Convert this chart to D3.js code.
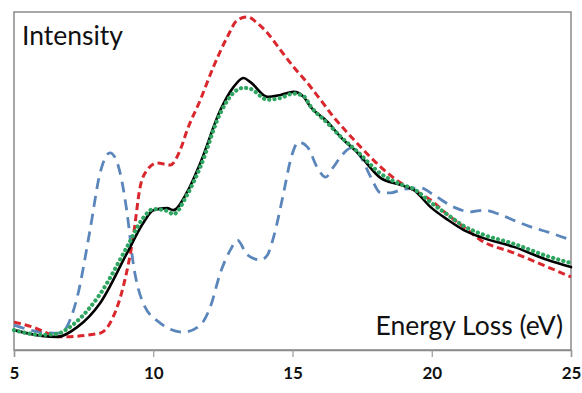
<!DOCTYPE html>
<html>
<head>
<meta charset="utf-8">
<script src="https://cdn.jsdelivr.net/npm/d3@7"></script>
<style>
  html, body { margin: 0; padding: 0; background: #fff; }
  svg { display: block; }
</style>
</head>
<body>
<div id="chart"></div>
<script>
// x ticks (eV)
const xTicks = [5, 10, 15, 20, 25];

// measured spectrum (black solid)
const measuredE = [5, 6, 6.55, 7.27, 8.09, 9.06, 9.64, 10, 10.5, 10.72, 11.2, 11.69, 12.41, 12.88, 13.24, 13.49, 14.1, 14.57, 15.04, 15.4, 15.65, 16.26, 16.73, 17.34, 18.17, 18.88, 19.35, 19.96, 20.58, 21.15, 21.76, 22.95, 24.17, 25];
const measuredI = [5.6, 3.9, 3.6, 6.5, 13.6, 28.5, 37.4, 41.2, 41.8, 41.2, 46.3, 55.2, 70.9, 77.7, 80.4, 79.2, 74.8, 75.4, 76.3, 74.8, 71.8, 67.4, 62.9, 58.2, 50.7, 48.7, 47.2, 42.1, 38.3, 35.3, 33.2, 30.3, 26.4, 24.3];

// fit (green dotted)
const fitE = [5, 6, 6.55, 7, 7.27, 8.09, 9.06, 9.64, 10, 10.5, 10.72, 11.2, 11.69, 12.41, 12.88, 13.24, 13.49, 14.1, 14.57, 15.04, 15.4, 15.65, 16.26, 16.73, 17.34, 18.17, 18.88, 19.35, 19.96, 20.58, 21.15, 21.76, 22.95, 24.17, 25];
const fitI = [5.6, 4.2, 4.5, 6.5, 8.3, 16.3, 30.3, 38.9, 41.5, 41, 40, 45.5, 54, 70, 76, 77.5, 77.2, 74, 74.5, 75.8, 75, 72, 67, 63, 58.5, 52, 48.9, 47.5, 43.5, 39.8, 36.5, 34.2, 31.2, 27.5, 25.5];

// red dashed
const redE = [5, 5.68, 6.65, 8.09, 8.56, 8.92, 9.28, 9.53, 9.78, 10.14, 10.61, 10.97, 11.22, 11.69, 12.16, 12.66, 13.02, 13.38, 13.74, 14.1, 14.57, 15.04, 15.54, 16.01, 16.48, 16.98, 17.45, 18.17, 18.88, 19.35, 19.96, 20.58, 21.15, 21.76, 22.95, 24.17, 25];
const redI = [8, 6.5, 3.6, 4.7, 9.5, 18.4, 33.2, 48.1, 53.1, 55.2, 54.6, 59.1, 65, 73.9, 83.7, 92.6, 97.6, 98.5, 96.7, 93.8, 88.7, 83.7, 78.9, 73.9, 68.8, 64.1, 59.9, 54, 49.3, 47.2, 44.2, 39.8, 36.2, 32.3, 28.5, 24.3, 21.4];

// blue dashed
const blueE = [5, 5.97, 6.65, 7.27, 7.73, 8.09, 8.45, 8.71, 9.06, 9.28, 9.64, 10.25, 11.08, 11.69, 12.05, 12.41, 12.77, 13.02, 13.38, 13.85, 14.1, 14.32, 14.68, 14.93, 15.22, 15.54, 15.9, 16.19, 16.47, 16.73, 17.09, 17.45, 17.81, 18.17, 18.53, 18.88, 19.6, 20.07, 20.79, 21.4, 21.87, 22.48, 23.09, 23.67, 24.17, 25];
const blueI = [7.1, 5, 4.7, 15.4, 35.3, 52.2, 58.2, 55.2, 40.4, 25.5, 13.6, 7.7, 5, 7.1, 12.5, 22.6, 29.4, 32.3, 27.9, 26.4, 27.9, 33.2, 46.3, 56.1, 61.4, 59.9, 53.7, 51, 54, 57, 59.6, 57, 51, 46.3, 46.3, 47.2, 47.8, 45.7, 42.1, 40.7, 41.2, 39.8, 37.7, 35.9, 34.7, 32.3];

const width = 582;
const height = 393;
const margin = { top: 12, right: 11, bottom: 43, left: 14 };

const svg = d3.select('#chart')
  .append('svg')
  .attr('width', width)
  .attr('height', height);

const xScale = d3.scaleLinear()
  .domain([5, 25])
  .range([margin.left, width - margin.right]);

const yScale = d3.scaleLinear()
  .domain([0, 100])
  .range([height - margin.bottom - 1, margin.top]);

// frame
svg.append('rect')
  .attr('x', margin.left)
  .attr('y', margin.top)
  .attr('width', width - margin.left - margin.right)
  .attr('height', height - margin.top - margin.bottom)
  .attr('fill', 'none')
  .attr('stroke', '#8a8a8a')
  .attr('stroke-width', 1.5);

// bottom axis
const axis = svg.append('g')
  .attr('transform', `translate(0, ${height - margin.bottom})`)
  .call(d3.axisBottom(xScale).tickValues(xTicks).tickSize(7).tickPadding(10))
  .call(g => g.select('.domain').attr('stroke', '#8a8a8a').attr('stroke-width', 1.5));

axis.selectAll('.tick line')
  .attr('stroke', '#9a9a9a')
  .attr('stroke-width', 1.2);

axis.selectAll('.tick text')
  .attr('font-family', 'Lato, "Open Sans", sans-serif')
  .attr('font-size', 17)
  .attr('font-weight', 700)
  .attr('fill', '#111');

const line = d3.line()
  .x(d => xScale(d[0]))
  .y(d => yScale(d[1]))
  .curve(d3.curveMonotoneX);

const series = [
  { e: blueE, v: blueI, color: '#5b86bb', width: 2.8, dash: '11 7', cap: 'butt' },
  { e: redE, v: redI, color: '#d9272d', width: 3, dash: '7 4', cap: 'butt' },
  { e: measuredE, v: measuredI, color: '#000000', width: 2.6, dash: null, cap: 'round' },
  { e: fitE, v: fitI, color: '#2fa562', width: 4.2, dash: '0.1 5.2', cap: 'round' }
];

svg.append('g')
  .selectAll('path')
  .data(series)
  .join('path')
  .attr('d', s => line(d3.zip(s.e, s.v)))
  .attr('fill', 'none')
  .attr('stroke', s => s.color)
  .attr('stroke-width', s => s.width)
  .attr('stroke-dasharray', s => s.dash)
  .attr('stroke-linecap', s => s.cap)
  .attr('stroke-linejoin', 'round');

// in-plot labels
svg.append('text')
  .attr('x', margin.left + 8)
  .attr('y', 45)
  .attr('font-family', 'Lato, "Open Sans", sans-serif')
  .attr('font-size', 26.5)
  .attr('fill', '#111')
  .text('Intensity');

svg.append('text')
  .attr('x', width - margin.right - 8)
  .attr('y', 335)
  .attr('text-anchor', 'end')
  .attr('font-family', 'Lato, "Open Sans", sans-serif')
  .attr('font-size', 26.5)
  .attr('fill', '#111')
  .text('Energy Loss (eV)');
</script>
</body>
</html>
